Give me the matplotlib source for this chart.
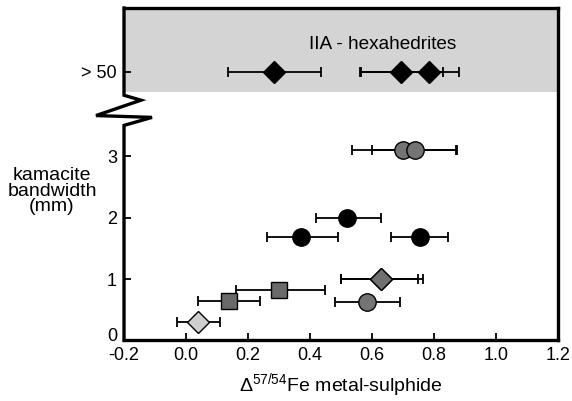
import matplotlib
matplotlib.use("Agg")
import matplotlib.pyplot as plt
import matplotlib.transforms as mtransforms

plt.rcParams['font.family'] = ['Liberation Sans', 'DejaVu Sans']
plt.rcParams['mathtext.fontset'] = 'custom'
plt.rcParams['mathtext.rm'] = 'Liberation Sans'
plt.rcParams['mathtext.it'] = 'Liberation Sans:italic'

# ---- data ----
# hexahedrites (bandwidth > 50 mm), plotted on the upper band
hex_x = [0.285, 0.695, 0.785]
hex_lo = [0.135, 0.56, 0.565]
hex_hi = [0.435, 0.83, 0.88]
hex_y = 4.37

# black circles
blk_x = [0.52, 0.37, 0.755]
blk_y = [2.0, 1.69, 1.69]
blk_lo = [0.42, 0.26, 0.66]
blk_hi = [0.63, 0.49, 0.845]

# grey circles
gc_x = [0.70, 0.74, 0.585]
gc_y = [3.1, 3.1, 0.63]
gc_lo = [0.535, 0.60, 0.48]
gc_hi = [0.87, 0.875, 0.69]

# dark grey squares
sq_x = [0.14, 0.30]
sq_y = [0.65, 0.82]
sq_lo = [0.04, 0.16]
sq_hi = [0.24, 0.45]

# grey diamond
gd_x = [0.63, 0.63]
gd_y = [1.0, 1.0]
gd_lo = [0.50, 0.50]
gd_hi = [0.75, 0.765]

# light grey diamond
ld_x = [0.04]
ld_y = [0.30]
ld_lo = [-0.03]
ld_hi = [0.11]

yticks = [0, 1, 2, 3, hex_y]
yticklabels = ['0', '1', '2', '3', '> 50']
xticks = [-0.2, 0.0, 0.2, 0.4, 0.6, 0.8, 1.0, 1.2]
xticklabels = ['-0.2', '0.0', '0.2', '0.4', '0.6', '0.8', '1.0', '1.2']

fig = plt.figure(figsize=(5.72, 4.01), dpi=100)
ax = fig.add_axes([0.2168, 0.151, 0.7587, 0.829])
ax.set_xlim(-0.2, 1.2)
ax.set_ylim(0, 5.41)

ax.axhspan(4.05, 5.41, color='#d4d4d4', zorder=0, lw=0)


def draw(xs, ys, lo, hi, marker, face, ms):
    for x, y, l, h in zip(xs, ys, lo, hi):
        ax.errorbar([x], [y], xerr=[[x - l], [h - x]], fmt='none',
                    ecolor='black', elinewidth=1.3, capsize=3.5,
                    capthick=1.3, zorder=2)
    ax.plot(xs, ys, linestyle='none', marker=marker, markersize=ms,
            markerfacecolor=face, markeredgecolor='black',
            markeredgewidth=1.0, zorder=3)


draw(hex_x, [hex_y] * len(hex_x), hex_lo, hex_hi, 'D', 'black', 11.5)
draw(blk_x, blk_y, blk_lo, blk_hi, 'o', 'black', 12.5)
draw(gc_x, gc_y, gc_lo, gc_hi, 'o', '#747474', 12.5)
draw(sq_x, sq_y, sq_lo, sq_hi, 's', '#6a6a6a', 11)
draw(gd_x, gd_y, gd_lo, gd_hi, 'D', '#707070', 11.5)
draw(ld_x, ld_y, ld_lo, ld_hi, 'D', '#cfcfcf', 11.5)

ax.text(0.635, 4.82, 'IIA - hexahedrites', fontsize=13.7, ha='center',
        va='center')

# spines
for s in ['top', 'right', 'bottom']:
    ax.spines[s].set_linewidth(2.4)
ax.spines['left'].set_visible(False)

# broken left spine with zigzag
trans = mtransforms.blended_transform_factory(ax.transAxes, ax.transData)
zx = [0, 0, 0.039, -0.0645, 0.0645, 0, 0]
zy = [5.41, 3.99, 3.91, 3.66, 3.63, 3.50, 0]
ax.plot(zx, zy, color='black', lw=2.4, transform=trans, clip_on=False,
        zorder=5, solid_joinstyle='miter', solid_capstyle='projecting')

ax.set_xticks(xticks)
ax.set_xticklabels(xticklabels)
ax.set_yticks(yticks)
ax.set_yticklabels(yticklabels)
ax.tick_params(direction='in', length=5, width=1.3, labelsize=13, pad=5)

# nudge the "0" label upward, as in the reference
zero_lbl = ax.get_yticklabels()[0]
zero_lbl.set_transform(zero_lbl.get_transform() +
                       mtransforms.ScaledTranslation(0, 6 / 100, fig.dpi_scale_trans))

ax.set_xlabel(r'$\Delta^{57/54}$Fe metal-sulphide', fontsize=14, labelpad=5)
fig.text(0.091, 1 - 191 / 401, 'kamacite\nbandwidth\n(mm)', ha='center',
         va='center', fontsize=14, linespacing=0.92)

fig.savefig('out.png', dpi=100)
